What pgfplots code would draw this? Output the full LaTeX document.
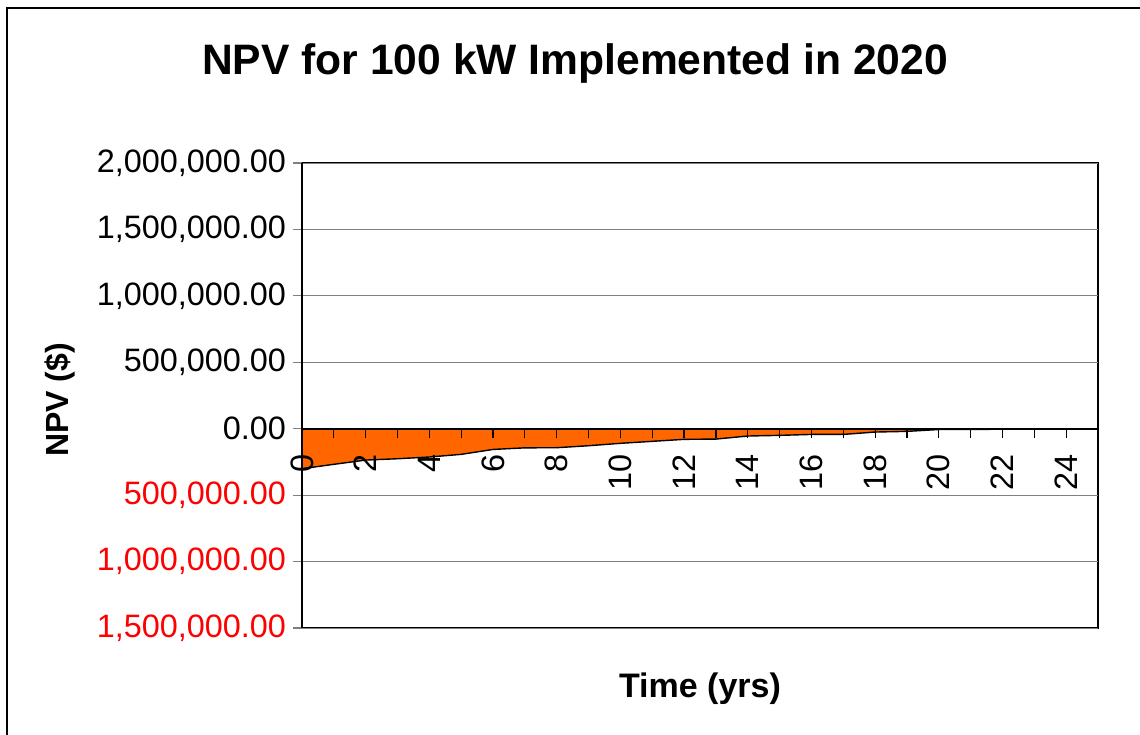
\documentclass[border=0pt]{standalone}
\usepackage{pgfplots}
\pgfplotsset{compat=1.18}
\usepackage{fontspec}
\setmainfont{Liberation Sans}
\definecolor{npvorange}{HTML}{FF6600}
\definecolor{gridgray}{HTML}{808080}
\begin{document}
\begin{tikzpicture}
\useasboundingbox (0,0) rectangle (570pt,-367pt);
\draw[black, line width=0.9pt] (3.5pt,-4pt) rectangle (600pt,-400pt);
\begin{axis}[
  at={(151pt,-81.5pt)}, anchor=north west,
  scale only axis, width=398pt, height=232.5pt,
  xmin=0, xmax=25, ymin=-1500000, ymax=2000000,
  axis on top,
  scaled y ticks=false,
  axis x line=middle, axis y line=left,
  hide obscured x ticks=false,
  axis line style={-, black, line width=0.9pt},
  xtick={0,...,25},
  xticklabels={0,,2,,4,,6,,8,,10,,12,,14,,16,,18,,20,,22,,24,},
  ytick={-1500000,-1000000,-500000,0,500000,1000000,1500000,2000000},
  yticklabels={{\textcolor{red}{1,500,000.00}},{\textcolor{red}{1,000,000.00}},{\textcolor{red}{500,000.00}},{0.00},{500,000.00},{1,000,000.00},{1,500,000.00},{2,000,000.00}},
  tick align=outside,
  major tick length=4.5pt,
  x tick style={black, line width=0.6pt},
  y tick style={gridgray, line width=0.6pt},
  xticklabel style={rotate=90, anchor=east, font=\fontsize{16.2}{19}\selectfont, xshift=-5pt},
  yticklabel style={font=\fontsize{16.2}{19}\selectfont},
  ymajorgrids, major grid style={gridgray, line width=0.5pt},
  clip=false,
]
\addplot[fill=npvorange, draw=none] coordinates {
(0,-301000) (1,-268000) (2,-236000) (3,-226000) (4,-213000) (5,-193000)
(6,-156000) (7,-144000) (8,-143000) (9,-128000) (10,-110000) (11,-95000)
(12,-80000) (13,-78000) (14,-55000) (15,-50000) (16,-43000) (17,-43000)
(18,-25000) (19,-20000) (20,-6000) (21,-5000) (22,-4000) (23,0) (24,0) (25,0)
} \closedcycle;
\addplot[black, line width=0.7pt] coordinates {
(0,-301000) (1,-268000) (2,-236000) (3,-226000) (4,-213000) (5,-193000)
(6,-156000) (7,-144000) (8,-143000) (9,-128000) (10,-110000) (11,-95000)
(12,-80000) (13,-78000) (14,-55000) (15,-50000) (16,-43000) (17,-43000)
(18,-25000) (19,-20000) (20,-6000) (21,-5000) (22,-4000) (23,0) (24,0) (25,0)
};
\draw[black, line width=0.9pt] (rel axis cs:0,0) rectangle (rel axis cs:1,1);
\end{axis}
\node[anchor=base, font=\bfseries\fontsize{21.3}{24}\selectfont] at (287.5pt,-37pt) {NPV for 100 kW Implemented in 2020};
\node[anchor=base, font=\bfseries\fontsize{17}{20}\selectfont] at (350pt,-348.5pt) {Time (yrs)};
\node[rotate=90, font=\bfseries\fontsize{16}{19}\selectfont] at (30pt,-200pt) {NPV (\$)};
\end{tikzpicture}
\end{document}
